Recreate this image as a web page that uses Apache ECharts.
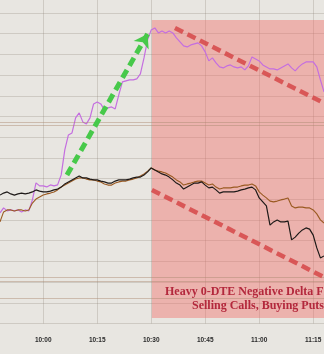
<!DOCTYPE html>
<html><head><meta charset="utf-8">
<script src="https://cdn.jsdelivr.net/npm/echarts@6/dist/echarts.min.js"></script>
<style>html,body{margin:0;padding:0;background:#e8e6e1;}#c{width:324px;height:354px;}</style>
</head><body><div id="c"></div>
<script>
// time range 09:48 .. 11:18, one point per minute
const startMinute = 9 * 60 + 48;
const endMinute = 11 * 60 + 18;
const tickLabels = ['10:00', '10:15', '10:30', '10:45', '11:00', '11:15'];

// index (black)
const spx = [5612.1,5612.6,5612.9,5612.4,5612.1,5612.4,5612.6,5612.4,5612.6,5612.9,
5613.4,5613.1,5612.9,5612.9,5613.1,5613.4,5613.6,5614.1,5614.9,5615.4,
5615.9,5616.4,5616.9,5616.4,5616.4,5616.1,5615.9,5615.9,5615.6,5615.4,
5615.1,5615.1,5615.6,5615.9,5615.9,5615.9,5616.1,5616.4,5616.6,5616.6,
5617.1,5617.9,5618.9,5618.4,5617.9,5617.4,5617.1,5616.6,5615.9,5615.1,
5614.6,5613.6,5614.1,5614.6,5615.1,5615.1,5615.4,5614.6,5613.9,5614.1,
5613.4,5612.6,5612.9,5612.9,5612.9,5612.9,5613.1,5613.4,5613.6,5613.9,
5614.1,5613.4,5611.4,5610.4,5609.4,5604.6,5605.4,5605.9,5605.4,5605.4,
5605.6,5600.9,5601.6,5602.6,5603.4,5603.9,5603.6,5602.1,5598.9,5596.4,5596.9];

// second index (orange)
const es = [5605.4,5607.9,5608.4,5608.4,5608.1,5608.4,5608.4,5608.1,5608.4,5610.1,
5611.1,5611.6,5612.1,5612.4,5612.6,5612.9,5613.4,5614.1,5614.6,5615.1,
5615.6,5616.1,5616.4,5616.4,5616.1,5615.9,5615.9,5615.6,5615.4,5614.9,
5614.6,5614.6,5615.1,5615.4,5615.6,5615.6,5615.9,5616.1,5616.4,5616.9,
5617.4,5618.1,5618.9,5618.4,5618.1,5617.9,5617.6,5617.1,5616.6,5615.9,
5615.4,5614.6,5614.9,5615.1,5615.4,5615.6,5615.6,5615.1,5614.6,5614.9,
5614.1,5613.6,5613.9,5613.9,5613.9,5614.1,5614.1,5614.4,5614.6,5614.6,
5614.9,5614.4,5612.9,5612.1,5611.4,5610.6,5610.4,5610.6,5610.9,5611.1,
5611.4,5609.4,5608.9,5609.1,5609.1,5608.9,5608.9,5608.4,5607.4,5605.9,5605.1];

// 0-DTE delta flow (purple, own scale)
const delta = [55.3,57.8,56.3,56.8,56.3,56.8,55.8,56.8,56.3,61.8,
70.3,68.8,68.8,68.3,69.3,68.8,69.3,74.3,86.8,94.3,
95.3,102.8,105.3,100.8,99.8,102.8,109.8,110.8,109.8,106.8,
107.8,108.3,107.3,114.3,120.8,121.3,121.8,121.8,122.3,124.8,
132.8,141.8,146.8,147.8,145.3,146.3,145.3,146.3,145.3,142.8,
140.8,138.8,138.3,139.3,139.8,140.3,138.8,135.8,131.3,132.8,
130.3,128.3,127.8,128.8,129.3,128.3,127.8,128.3,126.8,128.8,
133.3,132.3,131.3,129.3,128.3,127.3,127.3,126.8,127.8,128.8,
129.8,127.8,126.3,128.3,129.8,130.8,130.8,130.8,128.3,121.8,115.8];

// annotations in (minutes since 09:48, price)
const levelLines = [5630.4, 5629.5, 5591.5, 5590.5, 5586.4];
const shadeBox = [[42.2, 5655.9], [90, 5581.4]];
const greenArrow = [[18.6, 5617.1], [41.0, 5652.4]];
const redUpper = [[48.6, 5653.9], [90, 5635.1]];
const redLower = [[42.2, 5613.4], [90, 5591.6]];
const noteLines = ['Heavy 0-DTE Negative Delta Flow', 'Selling Calls, Buying Puts'];

const categories = [];
for (let m = startMinute; m <= endMinute; m++) {
  categories.push(Math.floor(m / 60) + ':' + String(m % 60).padStart(2, '0'));
}
const isTick = (i, v) => tickLabels.includes(v);
const gridCol = 'rgba(140,130,120,0.28)';

const chart = echarts.init(document.getElementById('c'));
chart.setOption({
  backgroundColor: '#e8e6e1',
  animation: false,
  grid: { left: 0, right: 0, top: 0, bottom: 30.5, containLabel: false, outerBoundsMode: 'none' },
  xAxis: [
    { type: 'category', data: categories, boundaryGap: false,
      axisLine: { show: false }, axisTick: { show: false },
      axisLabel: { interval: isTick, margin: 13, fontSize: 6.5, fontWeight: 'bold',
        color: '#2a2a2a', fontFamily: 'Liberation Sans' },
      splitLine: { show: true, interval: isTick, lineStyle: { color: gridCol, width: 1 } } },
    { type: 'value', min: 0, max: 90, show: true,
      axisLine: { show: false }, axisTick: { show: false }, axisLabel: { show: false },
      splitLine: { show: false } }
  ],
  yAxis: [
    { type: 'value', min: 5580, max: 5660.875, show: true,
      axisLine: { show: false }, axisTick: { show: false }, axisLabel: { show: false },
      splitLine: { show: false } },
    { type: 'value', min: 0, max: 161.75, show: true,
      axisLine: { show: false }, axisTick: { show: false }, axisLabel: { show: false },
      splitLine: { show: false } },
    { type: 'value', min: 0, max: 15.628, interval: 1, show: true,
      axisLine: { show: false }, axisTick: { show: false }, axisLabel: { show: false },
      splitLine: { show: true, showMinLine: true, showMaxLine: false, lineStyle: { color: gridCol, width: 1 } } }
  ],
  series: [
    { type: 'line', name: 'shade', xAxisIndex: 1, yAxisIndex: 0, data: [], silent: true, z: 1,
      markArea: { silent: true, itemStyle: { color: 'rgba(240,108,102,0.42)' },
        data: [[{ coord: shadeBox[0] }, { coord: shadeBox[1] }]] },
      markLine: { silent: true, symbol: ['none', 'none'], label: { show: false },
        lineStyle: { color: 'rgba(170,135,110,0.45)', type: 'solid', width: 1 },
        data: levelLines.map(v => ({ yAxis: v })) } },
    { type: 'line', name: '0-DTE Delta', xAxisIndex: 0, yAxisIndex: 1, data: delta,
      showSymbol: false, z: 3, lineStyle: { color: '#c46ee0', width: 1.2 } },
    { type: 'line', name: 'ES', xAxisIndex: 0, yAxisIndex: 0, data: es,
      showSymbol: false, z: 3, lineStyle: { color: '#9a5a22', width: 1.1 } },
    { type: 'line', name: 'SPX', xAxisIndex: 0, yAxisIndex: 0, data: spx,
      showSymbol: false, z: 4, lineStyle: { color: '#1e1a18', width: 1.2 } },
    { type: 'line', name: 'arrows', xAxisIndex: 1, yAxisIndex: 0, data: [], silent: true, z: 6,
      markLine: { silent: true, label: { show: false }, animation: false,
        data: [
          [{ coord: greenArrow[0], symbol: 'none', lineStyle: { color: '#47c94a', width: 5, type: [9, 5] } },
           { coord: greenArrow[1], symbol: 'arrow', symbolSize: 13 }],
          [{ coord: redUpper[0], symbol: 'none', lineStyle: { color: 'rgba(214,70,72,0.85)', width: 4.5, type: [9, 5] } },
           { coord: redUpper[1], symbol: 'none' }],
          [{ coord: redLower[0], symbol: 'none', lineStyle: { color: 'rgba(214,70,72,0.85)', width: 4.5, type: [9, 5] } },
           { coord: redLower[1], symbol: 'none' }]
        ] } }
  ],
  graphic: [
    { type: 'text', left: 165, top: 286, silent: true, z: 10,
      style: { text: noteLines[0], fill: '#b3283c', font: 'bold 12px "Liberation Serif"' } },
    { type: 'text', left: 192, top: 299.5, silent: true, z: 10,
      style: { text: noteLines[1], fill: '#b3283c', font: 'bold 12px "Liberation Serif"' } }
  ]
});
</script></body></html>
